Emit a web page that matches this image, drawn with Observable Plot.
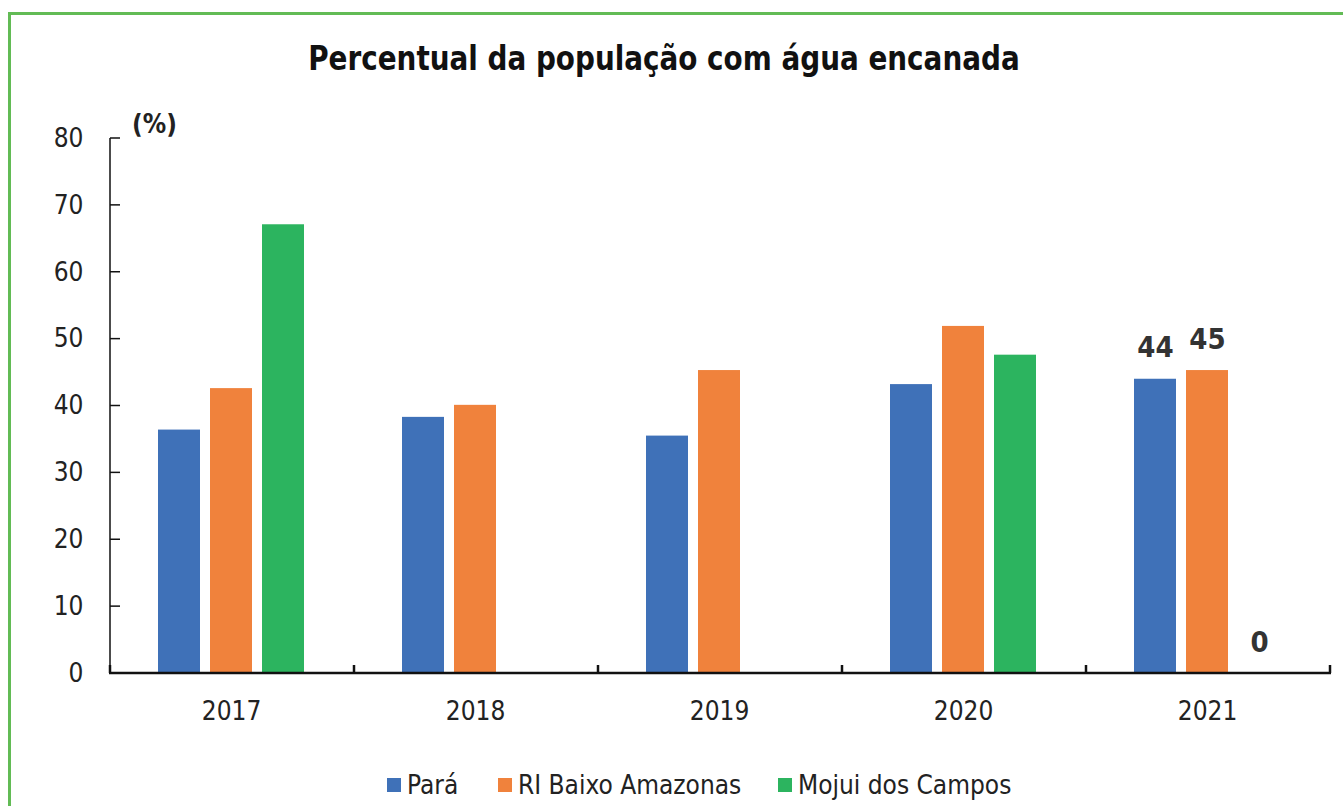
<!DOCTYPE html>
<html>
<head>
<meta charset="utf-8">
<script src="https://cdn.jsdelivr.net/npm/d3@7"></script>
<script src="https://cdn.jsdelivr.net/npm/@observablehq/plot@0.6"></script>
<style>
  html, body { margin: 0; padding: 0; background: #fff; overflow: hidden; width: 1343px; height: 806px; }
  body { position: relative; font-family: "Liberation Sans Narrow", "Arial Narrow", "DejaVu Sans Condensed", sans-serif; }
  #border { position: absolute; left: 8px; top: 12px; width: 1500px; height: 1000px; border-left: 3px solid #62bb55; border-top: 3px solid #62bb55; pointer-events: none; }
  #title { position: absolute; left: -8px; top: 0; width: 1343px; height: 100px; text-align: center; line-height: 116px; font-weight: bold; font-size: 34px; color: #111; }
  #title span { display: inline-block; transform: scaleX(0.91); }
  #chart { position: absolute; left: 0; top: 100px; }
  #legend { position: absolute; left: 0; top: 767px; width: 1343px; height: 36px; font-size: 26px; color: #222; }
  .item { position: absolute; top: 0; display: flex; align-items: center; height: 36px; }
  .sw { width: 14px; height: 14px; margin-right: 6px; }
</style>
</head>
<body>
<div id="title"><span>Percentual da população com água encanada</span></div>
<div id="chart"></div>
<div id="legend"></div>
<div id="border"></div>
<script>
const years = ["2017", "2018", "2019", "2020", "2021"];
const seriesNames = ["Pará", "RI Baixo Amazonas", "Mojui dos Campos"];
const para = [36.4, 38.3, 35.5, 43.2, 44.0];
const riBaixoAmazonas = [42.6, 40.1, 45.3, 51.9, 45.3];
const mojuiDosCampos = [67.1, null, null, 47.6, 0];
const colors = ["#3f71b8", "#f0823c", "#2cb45f"];
const yTicks = [0, 10, 20, 30, 40, 50, 60, 70, 80];
const yUnit = "(%)";
const labelYear = "2021";

const seriesValues = [para, riBaixoAmazonas, mojuiDosCampos];
const rows = [];
years.forEach((yr, i) => {
  seriesNames.forEach((s, j) => {
    const v = seriesValues[j][i];
    if (v !== null) rows.push({year: yr, series: s, value: v});
  });
});
const labelRows = rows.filter(d => d.year === labelYear);

const FONT = '"Liberation Sans Narrow", "Arial Narrow", "DejaVu Sans Condensed", sans-serif';

// Axis frame drawn once (first facet sits at translation 0), positions from Plot's scales
let axisDrawn = false;
function axisLines(index, scales, values, dimensions) {
  if (axisDrawn) return null;
  axisDrawn = true;
  const {fx, y} = scales;
  const g = d3.create("svg:g");
  const lines = g.append("g").attr("stroke", "#111").attr("fill", "none");
  const x0 = fx(years[0]);
  const bw = fx.bandwidth();
  const x1 = fx(years[years.length - 1]) + bw;
  const y0 = y(0);
  const yTop = y(yTicks[yTicks.length - 1]);
  lines.append("line").attr("x1", x0).attr("x2", x0).attr("y1", yTop).attr("y2", y0).attr("stroke-width", 1.5);
  for (const t of yTicks) {
    lines.append("line").attr("x1", x0).attr("x2", x0 + 10).attr("y1", y(t)).attr("y2", y(t)).attr("stroke-width", 1.5);
  }
  lines.append("line").attr("x1", x0 - 1).attr("x2", x1 + 1).attr("y1", y0).attr("y2", y0).attr("stroke-width", 2.5);
  for (let i = 0; i <= years.length; i++) {
    const xb = x0 + i * bw;
    lines.append("line").attr("x1", xb).attr("x2", xb).attr("y1", y0).attr("y2", y0 - 8).attr("stroke-width", 2.5);
  }
  g.append("text")
    .attr("x", x0 + 22).attr("y", yTop - 13)
    .attr("text-anchor", "start")
    .attr("dominant-baseline", "middle")
    .attr("font-weight", "bold").attr("font-size", 26).attr("fill", "#222")
    .text(yUnit);
  return g.node();
}

const chart = Plot.plot({
  width: 1343,
  height: 650,
  marginLeft: 108,
  marginRight: 13,
  marginTop: 38,
  marginBottom: 77,
  style: {fontFamily: FONT, fontSize: "26px", color: "#222", background: "transparent", overflow: "visible"},
  fx: {domain: years, padding: 0, label: null, tickSize: 0, tickPadding: 28},
  x: {domain: seriesNames, paddingInner: 0.19, paddingOuter: 0.9, axis: null},
  y: {domain: [0, 80], ticks: yTicks, tickSize: 0, tickPadding: 26, label: null},
  color: {domain: seriesNames, range: colors},
  marks: [
    Plot.barY(rows, {fx: "year", x: "series", y: "value", fill: "series"}),
    Plot.text(labelRows, {fx: "year", x: "series", y: "value", text: d => d3.format(".0f")(d.value), lineAnchor: "bottom", dy: -22, fontWeight: "bold", fontSize: 29, fill: "#333"}),
    axisLines
  ]
});
document.getElementById("chart").appendChild(chart);

const legend = document.getElementById("legend");
const legendLeft = [387, 498, 778];
seriesNames.forEach((s, i) => {
  const item = document.createElement("div");
  item.className = "item";
  item.style.left = legendLeft[i] + "px";
  const sw = document.createElement("div");
  sw.className = "sw";
  sw.style.background = colors[i];
  const t = document.createElement("span");
  t.textContent = s;
  item.appendChild(sw);
  item.appendChild(t);
  legend.appendChild(item);
});
</script>
</body>
</html>
